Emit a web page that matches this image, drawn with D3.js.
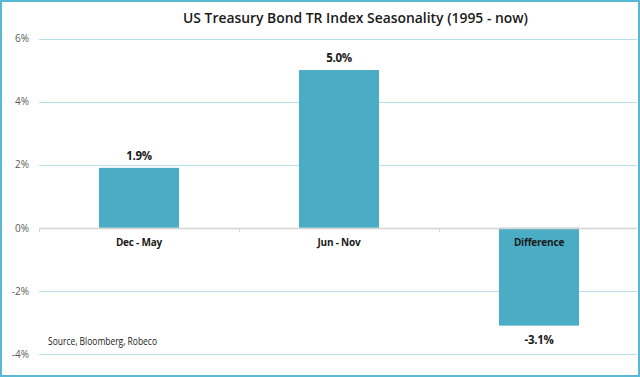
<!DOCTYPE html>
<html>
<head>
<meta charset="utf-8">
<script src="https://cdn.jsdelivr.net/npm/d3@7"></script>
<style>
	body { margin: 0; background: #fff; }
	svg { display: block; font-family: 'Open Sans', 'DejaVu Sans', sans-serif; }
</style>
</head>
<body>
<svg id="chart" width="640" height="377"></svg>
<script>
	var categories = ['Dec - May', 'Jun - Nov', 'Difference'];
	var values = [1.9, 5.0, -3.1];
	var yTicks = [-4, -2, 0, 2, 4, 6];

	var width = 640, height = 377;
	var margin = { top: 38.5, right: 1, bottom: 23, left: 39 };

	var svg = d3.select('#chart');

	// outer frame
	svg.append('rect')
		.attr('x', 1).attr('y', 1)
		.attr('width', width - 2).attr('height', height - 2)
		.attr('fill', '#fff')
		.attr('stroke', '#5ab9d2')
		.attr('stroke-width', 2);

	var x = d3.scaleBand()
		.domain(categories)
		.range([margin.left, width - margin.right])
		.paddingInner(0.6)
		.paddingOuter(0.3);

	var y = d3.scaleLinear()
		.domain([-4, 6])
		.range([height - margin.bottom, margin.top]);

	// gridlines
	svg.append('g')
		.selectAll('line')
		.data(yTicks.filter(function(d){ return d !== 0; }))
		.enter()
		.append('line')
		.attr('x1', margin.left)
		.attr('x2', width - 3)
		.attr('y1', function(d){ return Math.round(y(d)) + 0.5; })
		.attr('y2', function(d){ return Math.round(y(d)) + 0.5; })
		.attr('stroke', '#b9e0ea')
		.attr('stroke-width', 1);

	// y labels
	var yAxis = d3.axisLeft(y)
		.tickValues(yTicks)
		.tickSize(0)
		.tickPadding(10)
		.tickFormat(function(d){ return d + '%'; });

	var yg = svg.append('g')
		.attr('transform', 'translate(' + margin.left + ',0)')
		.call(yAxis);
	yg.select('.domain').remove();
	yg.selectAll('text')
		.attr('fill', '#595959')
		.style('font-size', '10px')
		.style('font-family', "'Open Sans', sans-serif");

	// bars
	svg.append('g')
		.selectAll('rect')
		.data(values)
		.enter()
		.append('rect')
		.attr('x', function(d, i){ return x(categories[i]); })
		.attr('width', x.bandwidth())
		.attr('y', function(d){ return y(Math.max(0, d)); })
		.attr('height', function(d){ return Math.abs(y(d) - y(0)); })
		.attr('fill', '#4bacc6');

	// zero axis with ticks
	var step = x.step();
	var xg = svg.append('g');
	xg.append('line')
		.attr('x1', margin.left)
		.attr('x2', width - 3)
		.attr('y1', Math.round(y(0)) + 0.5)
		.attr('y2', Math.round(y(0)) + 0.5)
		.attr('stroke', '#d4d4d4')
		.attr('stroke-width', 1.5);
	xg.selectAll('line.tick')
		.data(d3.range(categories.length))
		.enter()
		.append('line')
		.attr('class', 'tick')
		.attr('x1', function(i){ return x(categories[i]) - step * 0.3 + 0.5; })
		.attr('x2', function(i){ return x(categories[i]) - step * 0.3 + 0.5; })
		.attr('y1', Math.round(y(0)) + 0.5)
		.attr('y2', Math.round(y(0)) + 4)
		.attr('stroke', '#d4d4d4');

	// category labels
	svg.append('g')
		.selectAll('text')
		.data(categories)
		.enter()
		.append('text')
		.attr('x', function(d){ return x(d) + x.bandwidth() / 2; })
		.attr('y', y(0) + 18)
		.attr('text-anchor', 'middle')
		.attr('fill', '#1a1a1a')
		.style('font-size', '10px')
		.style('font-weight', 'bold')
		.style('letter-spacing', '-0.2px')
		.text(function(d){ return d; });

	// value labels
	svg.append('g')
		.selectAll('text')
		.data(values)
		.enter()
		.append('text')
		.attr('x', function(d, i){ return x(categories[i]) + x.bandwidth() / 2; })
		.attr('y', function(d){ return d >= 0 ? y(d) - 8 : y(d) + 18; })
		.attr('text-anchor', 'middle')
		.attr('fill', '#1a1a1a')
		.style('font-size', '11.5px')
		.style('font-weight', 'bold')
		.style('letter-spacing', '-0.3px')
		.text(function(d){ return d.toFixed(1) + '%'; });

	// title
	svg.append('text')
		.attr('x', 183)
		.attr('y', 23)
		.attr('textLength', 345)
		.attr('lengthAdjust', 'spacingAndGlyphs')
		.attr('fill', '#1a1a1a')
		.style('font-size', '15px')
		.style('font-weight', '600')
		.text('US Treasury Bond TR Index Seasonality (1995 - now)');

	// source note
	svg.append('text')
		.attr('x', 48)
		.attr('y', 345)
		.attr('textLength', 109)
		.attr('lengthAdjust', 'spacingAndGlyphs')
		.attr('fill', '#1a1a1a')
		.style('font-size', '10px')
		.text('Source, Bloomberg, Robeco');
</script>
</body>
</html>
